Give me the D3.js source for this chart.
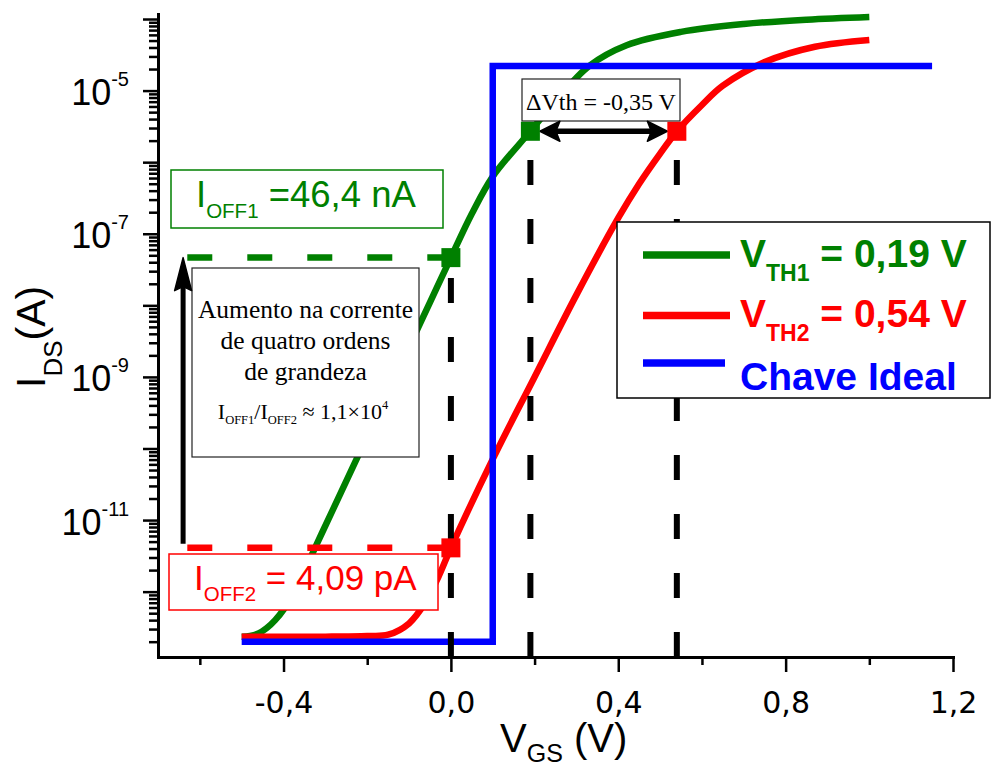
<!DOCTYPE html>
<html>
<head>
<meta charset="utf-8">
<script src="https://cdn.jsdelivr.net/npm/d3@7"></script>
<style>
  html, body { margin: 0; padding: 0; background: #fff; overflow: hidden; }
  svg { display: block; }
</style>
</head>
<body>
<script>
// I_DS(V_GS) transfer curves: two devices with different thresholds and an ideal switch

// Device with V_TH1 = 0.19 V
const vgsTh1 = [-0.50, -0.48, -0.46, -0.44, -0.42, -0.40, -0.36, -0.32, -0.28, -0.20, -0.10, -0.05, 0.00, 0.05, 0.10, 0.19, 0.25, 0.33, 0.42, 0.55, 0.70, 0.85, 1.00];
const idsTh1 = [2.34e-13, 2.4e-13, 2.6e-13, 3.1e-13, 4.0e-13, 5.6e-13, 1.48e-12, 4.7e-12, 1.48e-11, 1.48e-10, 2.6e-9, 1.1e-8, 46.4e-9, 1.9e-7, 6.3e-7, 2.7e-6, 7.1e-6, 2.2e-5, 4.3e-5, 6.6e-5, 8.5e-5, 9.8e-5, 1.07e-4];

// Device with V_TH2 = 0.54 V
const vgsTh2 = [-0.50, -0.40, -0.30, -0.20, -0.15, -0.10, -0.06, -0.03, 0.00, 0.10, 0.20, 0.30, 0.40, 0.45, 0.50, 0.54, 0.60, 0.65, 0.75, 0.87, 1.00];
const idsTh2 = [2.34e-13, 2.34e-13, 2.35e-13, 2.4e-13, 2.5e-13, 3.6e-13, 7.2e-13, 1.6e-12, 4.09e-12, 7.1e-11, 1.0e-9, 1.4e-8, 1.66e-7, 5.0e-7, 1.32e-6, 2.7e-6, 6.3e-6, 1.17e-5, 2.5e-5, 4.1e-5, 5.1e-5];

// Ideal switch
const vgsIdeal = [-0.50, 0.10, 0.10, 1.15];
const idsIdeal = [2.0e-13, 2.0e-13, 2.2e-5, 2.2e-5];

// Off currents at V_GS = 0 and the threshold points
const vOff = 0.0;
const iOff = [46.4e-9, 4.09e-12];
const vTh = [0.19, 0.54];
const iTh = 2.7e-6;
const vArrow = -0.64;     // position of the "four orders of magnitude" arrow
const vDashStart = -0.63; // left end of the off-current guide lines

// Axis ticks
const xMajorTicks = [-0.4, 0.0, 0.4, 0.8, 1.2];
const xTickLabels = ["-0,4", "0,0", "0,4", "0,8", "1,2"];
const xMinorTicks = [-0.6, -0.2, 0.2, 0.6, 1.0];
const yDecades = [-12, -11, -10, -9, -8, -7, -6, -5, -4];
const yLabelExps = [-5, -7, -9, -11];

const seriesColors = ["#008000", "#ff0000", "#0000ff"];
const legendLabels = [
  { main: "V", sub: "TH1", rest: " = 0,19 V" },
  { main: "V", sub: "TH2", rest: " = 0,54 V" },
  { main: "Chave Ideal", sub: "", rest: "" }
];

const W = 992, H = 769;
const L = 158, R = 953, T = 14, B = 657;

const svg = d3.select("body").append("svg")
  .attr("width", W).attr("height", H)
  .attr("font-family", "'Liberation Sans', Arial, sans-serif");

const x = d3.scaleLinear().domain([-0.7, 1.2]).range([L, R]);
const y = d3.scaleLog().domain([Math.pow(10, -12.913), Math.pow(10, -3.93)]).range([B, T]);

const line = d3.line().x(d => x(d[0])).y(d => y(d[1]));
const smooth = d3.line().x(d => x(d[0])).y(d => y(d[1])).curve(d3.curveCatmullRom.alpha(0.5));

const zip = (a, b) => a.map((v, i) => [v, b[i]]);

// Curves
svg.append("path").datum(zip(vgsTh1, idsTh1)).attr("d", smooth)
  .attr("fill", "none").attr("stroke", seriesColors[0]).attr("stroke-width", 6.5);
svg.append("path").datum(zip(vgsTh2, idsTh2)).attr("d", smooth)
  .attr("fill", "none").attr("stroke", seriesColors[1]).attr("stroke-width", 6.5);
svg.append("path").datum(zip(vgsIdeal, idsIdeal)).attr("d", line)
  .attr("fill", "none").attr("stroke", seriesColors[2]).attr("stroke-width", 6.5)
  .attr("stroke-linejoin", "miter");

// Vertical guide lines at V_GS = 0 and at both thresholds
const guides = [[vOff, iOff[0]], [vTh[0], iTh], [vTh[1], iTh]];
svg.selectAll(".vguide").data(guides).join("line")
  .attr("x1", d => x(d[0])).attr("x2", d => x(d[0]))
  .attr("y1", B).attr("y2", d => y(d[1]))
  .attr("stroke", "#000").attr("stroke-width", 6)
  .attr("stroke-dasharray", "25,34");

// Horizontal guide lines at the off currents
svg.selectAll(".hguide").data(iOff).join("line")
  .attr("x1", x(vDashStart)).attr("x2", x(vOff))
  .attr("y1", d => y(d)).attr("y2", d => y(d))
  .attr("stroke", (d, i) => seriesColors[i]).attr("stroke-width", 6.5)
  .attr("stroke-dasharray", "25,35");

// Annotation boxes
function box(x0, y0, w, h, color, sw) {
  svg.append("rect").attr("x", x0).attr("y", y0).attr("width", w).attr("height", h)
    .attr("fill", "#fff").attr("stroke", color).attr("stroke-width", sw);
}

box(171, 170, 272, 58, seriesColors[0], 1.5);
const t1 = svg.append("text").attr("x", 196).attr("y", 207).attr("font-size", 36.5).attr("fill", seriesColors[0]);
t1.append("tspan").text("I");
t1.append("tspan").attr("dy", 11).attr("font-size", 20.5).text("OFF1");
t1.append("tspan").attr("dy", -11).text(" =46,4 nA");

box(169, 554, 269, 56, seriesColors[1], 1.5);
const t2 = svg.append("text").attr("x", 194).attr("y", 590).attr("font-size", 35).attr("fill", seriesColors[1]);
t2.append("tspan").text("I");
t2.append("tspan").attr("dy", 11).attr("font-size", 20.5).text("OFF2");
t2.append("tspan").attr("dy", -11).text(" = 4,09 pA");

box(192, 268, 227, 189, "#222", 1.2);
const serif = "'Liberation Serif', 'Times New Roman', serif";
const aLines = ["Aumento na corrente", "de quatro ordens", "de grandeza"];
const aBase = [318, 349, 380];
aLines.forEach((s, i) => {
  svg.append("text").attr("x", 305.5).attr("y", aBase[i]).attr("text-anchor", "middle")
    .attr("font-family", serif).attr("font-size", 25.5).attr("fill", "#000").text(s);
});
const ratio = svg.append("text").attr("x", 303).attr("y", 419).attr("text-anchor", "middle")
  .attr("font-family", serif).attr("font-size", 22).attr("fill", "#000");
ratio.append("tspan").text("I");
ratio.append("tspan").attr("dy", 5).attr("font-size", 12.5).text("OFF1");
ratio.append("tspan").attr("dy", -5).text("/I");
ratio.append("tspan").attr("dy", 5).attr("font-size", 12.5).text("OFF2");
ratio.append("tspan").attr("dy", -5).text(" \u2248 1,1\u00d710");
ratio.append("tspan").attr("dy", -10).attr("font-size", 12.5).text("4");

box(522, 79, 158, 42, "#222", 1.2);
svg.append("text").attr("x", 601).attr("y", 110).attr("text-anchor", "middle")
  .attr("font-family", serif).attr("font-size", 24).attr("fill", "#000")
  .text("\u0394Vth = -0,35 V");

// Legend
box(617, 222, 373, 176, "#000", 1.5);
const legY = [255, 315.5, 363];
const legBase = [267, 327, 390];
legendLabels.forEach((lab, i) => {
  svg.append("line").attr("x1", 643).attr("x2", i === 2 ? 725 : 730)
    .attr("y1", legY[i]).attr("y2", legY[i])
    .attr("stroke", seriesColors[i]).attr("stroke-width", 7.5);
  const t = svg.append("text").attr("x", 740).attr("y", legBase[i])
    .attr("font-size", 39).attr("font-weight", "bold").attr("fill", seriesColors[i]);
  t.append("tspan").text(lab.main);
  if (lab.sub) {
    t.append("tspan").attr("dy", 14).attr("font-size", 23).text(lab.sub);
    t.append("tspan").attr("dy", -14).text(lab.rest);
  }
});

// Arrows
const ax = x(vArrow);
const yTop = y(iOff[0]), yBot = y(iOff[1]);
svg.append("line").attr("x1", ax).attr("x2", ax).attr("y1", yBot - 4).attr("y2", yTop + 28)
  .attr("stroke", "#000").attr("stroke-width", 5);
svg.append("path")
  .attr("d", `M${ax},${yTop} L${ax + 8.5},${yTop + 33} L${ax},${yTop + 29} L${ax - 8.5},${yTop + 33} Z`)
  .attr("fill", "#000").attr("stroke", "#000").attr("stroke-width", 1.5).attr("stroke-linejoin", "round");

const hy = y(iTh);
const hx0 = x(vTh[0]) + 9.5, hx1 = x(vTh[1]) - 9.5;
svg.append("line").attr("x1", hx0 + 16).attr("x2", hx1 - 16).attr("y1", hy).attr("y2", hy)
  .attr("stroke", "#000").attr("stroke-width", 5.5);
svg.append("path")
  .attr("d", `M${hx0},${hy} L${hx0 + 20},${hy - 10} L${hx0 + 16},${hy} L${hx0 + 20},${hy + 10} Z`)
  .attr("fill", "#000").attr("stroke", "#000").attr("stroke-width", 1.5).attr("stroke-linejoin", "round");
svg.append("path")
  .attr("d", `M${hx1},${hy} L${hx1 - 20},${hy - 10} L${hx1 - 16},${hy} L${hx1 - 20},${hy + 10} Z`)
  .attr("fill", "#000").attr("stroke", "#000").attr("stroke-width", 1.5).attr("stroke-linejoin", "round");

// Square markers
const markers = [
  [vOff, iOff[0], 0], [vOff, iOff[1], 1],
  [vTh[0], iTh, 0], [vTh[1], iTh, 1]
];
svg.selectAll(".mk").data(markers).join("rect")
  .attr("x", d => x(d[0]) - 9.5).attr("y", d => y(d[1]) - 9.5)
  .attr("width", 19).attr("height", 19)
  .attr("fill", d => seriesColors[d[2]]);

// Axes
function styleAxis(g) {
  g.select(".domain").attr("stroke-width", 3).attr("stroke-linecap", "square");
  g.selectAll(".tick line").attr("stroke-width", 2.5);
}

const gx = svg.append("g").attr("transform", `translate(0,${B})`);
gx.call(d3.axisBottom(x).tickValues(xMajorTicks).tickSize(15).tickSizeOuter(0)
  .tickFormat((d, i) => xTickLabels[i]));
styleAxis(gx);
gx.selectAll(".tick text").attr("y", 56).attr("dy", 0)
  .attr("font-family", "'DejaVu Sans', sans-serif").attr("font-size", 30).attr("fill", "#000");
const gxm = svg.append("g").attr("transform", `translate(0,${B})`);
gxm.call(d3.axisBottom(x).tickValues(xMinorTicks).tickSize(8).tickSizeOuter(0).tickFormat(""));
gxm.select(".domain").remove();
gxm.selectAll(".tick line").attr("stroke-width", 2.5);

const gy = svg.append("g").attr("transform", `translate(${L},0)`);
gy.call(d3.axisLeft(y).tickValues(yDecades.map(e => Math.pow(10, e))).tickSize(15).tickSizeOuter(0).tickFormat(""));
styleAxis(gy);
const minorVals = [];
yDecades.forEach(e => { for (let k = 2; k <= 9; k++) minorVals.push(k * Math.pow(10, e - 1)); });
for (let k = 2; k <= 9; k++) minorVals.push(k * Math.pow(10, -4));
const gym = svg.append("g").attr("transform", `translate(${L},0)`);
gym.call(d3.axisLeft(y).tickValues(minorVals.filter(v => y(v) >= T && y(v) <= B))
  .tickSize(9).tickSizeOuter(0).tickFormat(""));
gym.select(".domain").remove();
gym.selectAll(".tick line").attr("stroke-width", 2.5);

yLabelExps.forEach(e => {
  const t = svg.append("text").attr("x", 129).attr("y", y(Math.pow(10, e)) + 14.5)
    .attr("text-anchor", "end").attr("font-size", 36).attr("fill", "#000");
  t.append("tspan").text("10");
  t.append("tspan").attr("dy", -19).attr("font-size", 20).text(String(e));
});

// Axis titles
const xt = svg.append("text").attr("x", 500).attr("y", 752).attr("font-size", 40).attr("fill", "#000");
xt.append("tspan").text("V");
xt.append("tspan").attr("dy", 10).attr("font-size", 25).text("GS");
xt.append("tspan").attr("dy", -10).text(" (V)");

const yt = svg.append("text").attr("transform", "translate(45,388) rotate(-90)")
  .attr("font-size", 41).attr("fill", "#000");
yt.append("tspan").text("I");
yt.append("tspan").attr("dy", 17).attr("font-size", 26).text("DS");
yt.append("tspan").attr("dy", -17).text("(A)");
</script>
</body>
</html>
